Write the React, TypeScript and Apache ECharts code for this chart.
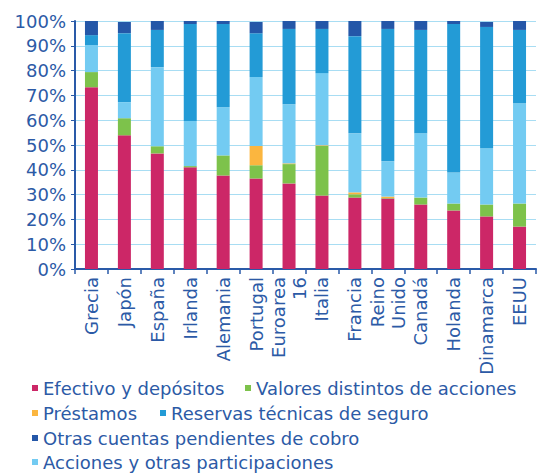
import React, { useEffect, useRef } from "react";
import * as echarts from "echarts";

const categories = ["Grecia", "Japón", "España", "Irlanda", "Alemania", "Portugal", "Euroarea\n16", "Italia", "Francia", "Reino\nUnido", "Canadá", "Holanda", "Dinamarca", "EEUU"];

const efectivo = [73.3, 53.9, 46.6, 41.0, 37.7, 36.5, 34.5, 29.6, 28.8, 28.4, 26.0, 23.6, 21.2, 17.1];
const valores = [6.1, 6.9, 2.9, 0.5, 8.1, 5.3, 7.8, 20.0, 1.3, 0.2, 2.8, 2.8, 4.8, 9.3];
const prestamos = [0, 0, 0, 0, 0, 7.8, 0.3, 0.3, 0.8, 0.6, 0, 0, 0, 0];
const acciones = [10.9, 6.5, 31.9, 18.2, 19.4, 27.8, 23.8, 29.1, 23.8, 14.2, 25.9, 12.5, 22.7, 40.4];
const reservas = [4.0, 27.8, 15.0, 39.1, 33.6, 17.7, 30.4, 17.8, 39.2, 53.4, 41.7, 59.9, 48.9, 29.6];
const otras = [5.7, 4.5, 3.6, 1.2, 1.2, 4.5, 3.2, 3.2, 6.1, 3.2, 3.6, 1.2, 2.0, 3.6];

const TEXT = "#2c5aa6";
const FONT = "'DejaVu Sans', sans-serif";

export default function App() {
  const ref = useRef<HTMLDivElement>(null);
  useEffect(() => {
    if (!ref.current) return;
    const chart = echarts.init(ref.current, null, { renderer: "svg" });
    const mk = (name: string, data: number[], color: string) => ({
      name,
      type: "bar",
      stack: "total",
      data,
      barWidth: 13,
      itemStyle: { color },
    });
    const lg = (name: string, left: number, top: number) => ({
      orient: "horizontal",
      left,
      top,
      padding: 0,
      itemWidth: 6,
      itemHeight: 6,
      icon: "rect",
      data: [name],
      textStyle: { color: TEXT, fontSize: 18, fontFamily: FONT, padding: [0, 0, 0, 0] },
    });
    chart.setOption({
      animation: false,
      textStyle: { fontFamily: FONT },
      grid: { left: 75, right: 12, top: 21, bottom: 205, containLabel: false },
      legend: [
        lg("Efectivo y depósitos", 32, 379),
        lg("Valores distintos de acciones", 245, 379),
        lg("Préstamos", 32, 404),
        lg("Reservas técnicas de seguro", 160, 404),
        lg("Otras cuentas pendientes de cobro", 32, 429),
        lg("Acciones y otras participaciones", 32, 453),
      ],
      xAxis: {
        type: "category",
        data: categories,
        axisLine: { lineStyle: { color: "#2a5aa8", width: 2 } },
        axisTick: { show: true, length: 5, lineStyle: { color: "#2a5aa8", width: 1.5 } },
        axisLabel: {
          rotate: 90,
          color: TEXT,
          fontSize: 18,
          fontFamily: FONT,
          lineHeight: 21,
          interval: 0,
          margin: 8,
        },
      },
      yAxis: {
        type: "value",
        min: 0,
        max: 100,
        interval: 10,
        axisLine: { show: true, lineStyle: { color: "#2a5aa8", width: 2 } },
        axisTick: { show: true, length: 4, lineStyle: { color: "#2a5aa8" } },
        splitLine: { lineStyle: { color: "#a8ddf3", width: 1.2 } },
        axisLabel: {
          formatter: "{value}%",
          color: TEXT,
          fontSize: 18,
          fontFamily: FONT,
          margin: 9,
        },
      },
      series: [
        mk("Efectivo y depósitos", efectivo, "#cc2767"),
        mk("Valores distintos de acciones", valores, "#7dc24b"),
        mk("Préstamos", prestamos, "#fbb63f"),
        mk("Acciones y otras participaciones", acciones, "#73cbf2"),
        mk("Reservas técnicas de seguro", reservas, "#239bd6"),
        mk("Otras cuentas pendientes de cobro", otras, "#2457a8"),
      ],
    });
    return () => chart.dispose();
  }, []);
  return <div ref={ref} style={{ width: 548, height: 474, position: "absolute", left: 0, top: 0 }} />;
}
